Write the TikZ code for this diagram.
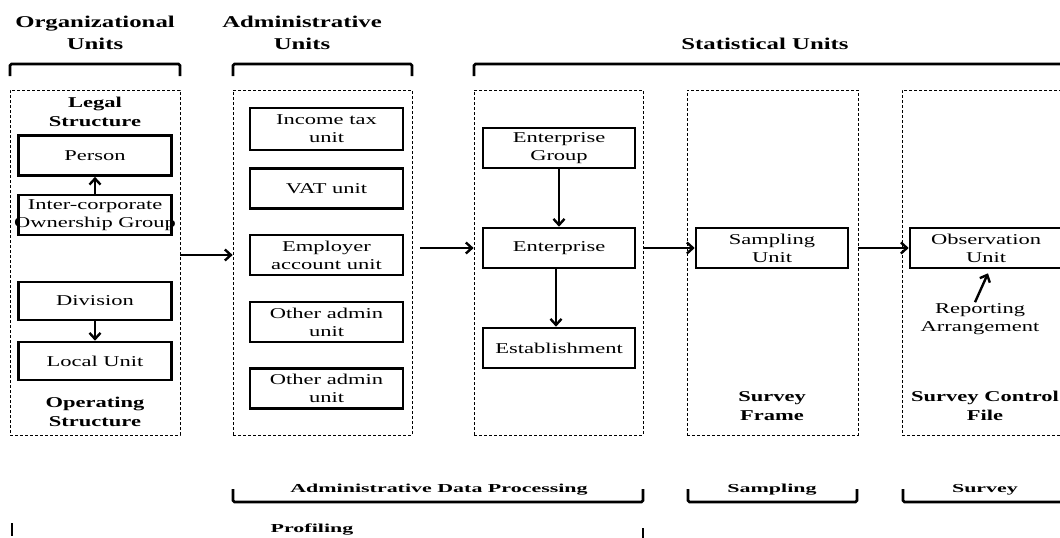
\documentclass[tikz,border=0pt]{standalone}
\usepackage{fontspec}
\setmainfont{Liberation Serif}[FakeStretch=1.5]
\newfontfamily\stgfont{Liberation Serif}[FakeStretch=1.8]
\usetikzlibrary{positioning, arrows.meta, calc}
\tikzset{
  unit/.style = {draw, line width=2.6pt, minimum width=153pt, minimum height=40pt,
                 inner sep=0pt, align=center, font=\fontsize{15}{18}\selectfont},
  grp/.style  = {draw, dash pattern=on 3pt off 2pt, line width=0.7pt, inner sep=0pt},
  hd/.style   = {font=\fontsize{15}{19}\selectfont\bfseries, align=center, inner sep=0pt},
  ttl/.style  = {font=\fontsize{16.5}{21.5}\selectfont\bfseries, align=center, inner sep=0pt},
  txt/.style  = {font=\fontsize{15}{18}\selectfont, align=center, inner sep=0pt},
  stg/.style  = {font=\stgfont\fontsize{12.2}{15}\selectfont\bfseries, inner sep=0pt},
  ar/.style   = {line width=2.4pt, -{Straight Barb[length=6pt, width=11pt]}},
  brk/.style  = {line width=2.6pt, rounded corners=1.5pt},
}

\begin{document}
\begin{tikzpicture}[x=1pt, y=-1pt]
  \useasboundingbox (0,0) rectangle (1060,538);
  % titles and top brackets
  \node[ttl] (torg) at (95,33) {Organizational\\Units};
  \node[ttl] (tadm) at (302,33) {Administrative\\Units};
  \node[ttl] (tstat) at (765,44) {Statistical Units};
  \draw[brk] (10,76) -- (10,64) -- (180,64) -- (180,76);
  \draw[brk] (233,76) -- (233,64) -- (412,64) -- (412,76);
  \draw[brk] (474,76) -- (474,64) -- (1075,64);
  % dashed groups
  \node[grp, minimum width=170pt, minimum height=345pt] (org) at (95,262.5) {};
  \node[grp, minimum width=179pt, minimum height=345pt] (adm) at (322.5,262.5) {};
  \node[grp, minimum width=169pt, minimum height=345pt] (stat) at (558.5,262.5) {};
  \node[grp, minimum width=171pt, minimum height=345pt] (frm) at (772.5,262.5) {};
  \node[grp, minimum width=170pt, minimum height=345pt] (ctl) at (987,262.5) {};
  % organizational units
  \node[hd] (legal) at (95,112) {Legal\\Structure};
  \node[unit] (person) at (95,155.5) {Person};
  \node[unit] (icog) at (95,215)
    {\makebox[0pt]{Inter-corporate}\\\makebox[0pt]{Ownership Group}};
  \node[unit, minimum height=38pt] (div) at (95,301) {Division};
  \node[unit, minimum height=38pt] (local) at (95,361) {Local Unit};
  \node[hd] (oper) at (95,412) {Operating\\Structure};
  \draw[ar] (icog.north) -- (person.south);
  \draw[ar] (div.south) -- (local.north);
  % administrative units
  \node[unit, minimum height=42pt] (itax) at (326.5,129) {Income tax\\unit};
  \node[unit] (vat) at (326.5,188.5) {VAT unit};
  \node[unit] (empl) at (326.5,255) {Employer\\account unit};
  \node[unit] (oth1) at (326.5,322) {Other admin\\unit};
  \node[unit] (oth2) at (326.5,388.5) {Other admin\\unit};
  % statistical units
  \node[unit, minimum width=152pt] (egrp) at (559,148) {Enterprise\\Group};
  \node[unit, minimum width=152pt] (ent) at (559,248) {Enterprise};
  \node[unit, minimum width=152pt] (estb) at (559,348) {Establishment};
  \draw[ar] (egrp.south) -- (ent.north);
  \draw[ar] ([xshift=-3pt]ent.south) -- ([xshift=-3pt]estb.north);
  \node[unit, minimum width=152pt] (samp) at (772,248) {Sampling\\Unit};
  \node[unit, minimum width=152pt] (obs) at (986,248) {Observation\\Unit};
  \node[txt] (rep) at (980,319) {Reporting\\Arrangement};
  \draw[ar] ($(rep.north)+(-5,-1)$) -- ($(obs.south)+(2,4)$);
  \node[hd] (sfrm) at (772,406) {Survey\\Frame};
  \node[hd] (sctl) at (985,406) {Survey Control\\File};
  % flow between groups
  \draw[ar] (org.east |- 0,255) -- (adm.west |- 0,255);
  \draw[ar] ([xshift=8pt]adm.east |- ent) -- (stat.west |- ent);
  \draw[ar] (stat.east |- ent) -- (samp.west);
  \draw[ar] (frm.east |- obs) -- (obs.west);
  % stages
  \node[stg] (sadp) at (439,490) {Administrative Data Processing};
  \node[stg] (ssmp) at (772,490) {Sampling};
  \node[stg] (ssrv) at (985,490) {Survey};
  \draw[brk] (233,489) -- (233,502) -- (643,502) -- (643,489);
  \draw[brk] (688,489) -- (688,502) -- (857,502) -- (857,489);
  \draw[brk] (903,489) -- (903,502) -- (1075,502);
  \node[stg] (prof) at (312,530) {Profiling};
  \draw[line width=2.4pt] (12,523) -- (12,536);
  \draw[line width=2.4pt] (643,528) -- (643,540);
\end{tikzpicture}
\end{document}
